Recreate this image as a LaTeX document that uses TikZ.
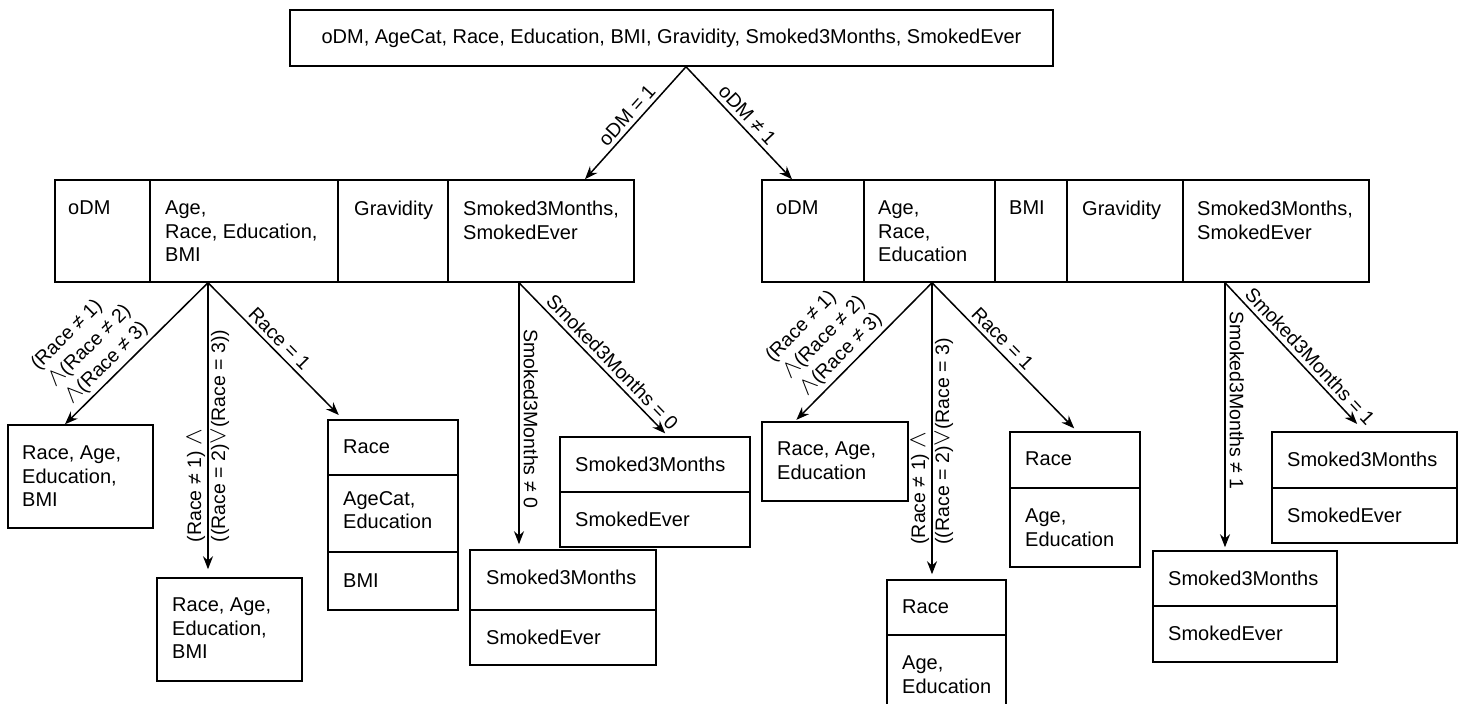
\documentclass[tikz,border=0pt]{standalone}
\usepackage{fontspec}
\setmainfont{Liberation Sans}
\newcommand{\andop}{{\fontsize{27}{24}\selectfont$\wedge$}}
\newcommand{\orop}{{\fontsize{27}{24}\selectfont$\vee$}}
\usetikzlibrary{arrows.meta}

\tikzset{
  box/.style={draw, line width=1.5pt, inner sep=0pt},
  cell/.style={anchor=north west, align=left, inner sep=0pt, font=\fontsize{20}{23.5}\selectfont},
  arr/.style={-{Stealth[length=13pt,width=10pt]}, line width=1.5pt},
  lbl/.style={font=\fontsize{19.5}{24}\selectfont, inner sep=2pt, align=left},
  slbl/.style={lbl, sloped, above, inner sep=4pt},
  divide/.style={line width=1.5pt},
}

\begin{document}
\begin{tikzpicture}[x=1pt, y=-1pt]
\useasboundingbox (0,0) rectangle (1484,704);

% root
\node[box, minimum width=763pt, minimum height=56pt, font=\fontsize{20}{24}\selectfont] (root) at (671.5,38)
  {oDM, AgeCat, Race, Education, BMI, Gravidity, Smoked3Months, SmokedEver};

% level 1
\node[box, minimum width=579pt, minimum height=102pt] (left) at (344.5,231) {};
\draw[divide] (150,180) -- (150,282);
\draw[divide] (338,180) -- (338,282);
\draw[divide] (448,180) -- (448,282);
\node[cell] at (68,201) {oDM};
\node[cell] at (165,201) {Age,\\Race, Education,\\BMI};
\node[cell] at (354,201) {Gravidity};
\node[cell] at (463,201) {Smoked3Months,\\SmokedEver};

\node[box, minimum width=607pt, minimum height=102pt] (right) at (1065.5,231) {};
\draw[divide] (864,180) -- (864,282);
\draw[divide] (995,180) -- (995,282);
\draw[divide] (1067,180) -- (1067,282);
\draw[divide] (1183,180) -- (1183,282);
\node[cell] at (776,201) {oDM};
\node[cell] at (878,201) {Age,\\Race,\\Education};
\node[cell] at (1009,201) {BMI};
\node[cell] at (1082,201) {Gravidity};
\node[cell] at (1197,201) {Smoked3Months,\\SmokedEver};

% level 2, left
\node[box, minimum width=145pt, minimum height=103pt] (a) at (80.5,476.5) {};
\node[cell] at (22,446) {Race, Age,\\Education,\\BMI};

\node[box, minimum width=145pt, minimum height=103pt] (b) at (229.5,629.5) {};
\node[cell] at (172,598) {Race, Age,\\Education,\\BMI};

\node[box, minimum width=130pt, minimum height=190pt] (c) at (393,515) {};
\draw[divide] (328,475) -- (458,475);
\draw[divide] (328,552) -- (458,552);
\node[cell] at (343,440) {Race};
\node[cell] at (343,491) {AgeCat,\\Education};
\node[cell] at (343,574) {BMI};

\node[box, minimum width=190pt, minimum height=110pt] (d) at (655,492) {};
\draw[divide] (560,492) -- (750,492);
\node[cell] at (575,457) {Smoked3Months};
\node[cell] at (575,512) {SmokedEver};

\node[box, minimum width=186pt, minimum height=115pt] (e) at (563,607.5) {};
\draw[divide] (470,610) -- (656,610);
\node[cell] at (486,570) {Smoked3Months};
\node[cell] at (486,630) {SmokedEver};

% level 2, right
\node[box, minimum width=146pt, minimum height=79pt] (f) at (835,461.5) {};
\node[cell] at (777,442) {Race, Age,\\Education};

\node[box, minimum width=119pt, minimum height=134pt] (g) at (946.5,647) {};
\draw[divide] (887,635) -- (1006,635);
\node[cell] at (902,600) {Race};
\node[cell] at (902,656) {Age,\\Education};

\node[box, minimum width=130pt, minimum height=135pt] (h) at (1075,499.5) {};
\draw[divide] (1010,488) -- (1140,488);
\node[cell] at (1025,452) {Race};
\node[cell] at (1025,509) {Age,\\Education};

\node[box, minimum width=185pt, minimum height=111pt] (i) at (1364.5,487.5) {};
\draw[divide] (1272,488) -- (1457,488);
\node[cell] at (1287,452) {Smoked3Months};
\node[cell] at (1287,508) {SmokedEver};

\node[box, minimum width=184pt, minimum height=111pt] (j) at (1245,606.5) {};
\draw[divide] (1153,606) -- (1337,606);
\node[cell] at (1168,571) {Smoked3Months};
\node[cell] at (1168,626) {SmokedEver};

% connectors
\draw[arr] ([xshift=14.5pt]root.south) -- node[slbl] {oDM = 1} ([xshift=240.5pt]left.north);
\draw[arr] ([xshift=14.5pt]root.south) -- node[slbl] {oDM ≠ 1} ([xshift=-273.5pt]right.north);

\draw[arr] ([xshift=-136.5pt]left.south) -- node[slbl, pos=0.64]
  {(Race ≠ 1)\\\andop(Race ≠ 2)\\\andop(Race ≠ 3)} ([xshift=-15.5pt]a.north);
\draw[arr, shorten >=8pt] ([xshift=-136.5pt]left.south) -- node[lbl, rotate=90, pos=0.52]
  {(Race ≠ 1) \andop\\((Race = 2)\orop(Race = 3))} ([xshift=-21.5pt]b.north);
\draw[arr, shorten >=6pt] ([xshift=-136.5pt]left.south) -- node[slbl, pos=0.47] {Race = 1} ([xshift=-50pt]c.north);

\draw[arr, shorten >=5pt] ([xshift=174.5pt]left.south) -- node[lbl, rotate=-90, anchor=south, inner sep=4pt, pos=0.51] {Smoked3Months ≠ 0} ([xshift=-44pt]e.north);
\draw[arr, shorten >=4pt] ([xshift=174.5pt]left.south) -- node[slbl, pos=0.57] {Smoked3Months = 0} ([xshift=13pt]d.north);

\draw[arr, shorten >=2pt] ([xshift=-133.5pt]right.south) -- node[slbl, pos=0.59]
  {(Race ≠ 1)\\\andop(Race ≠ 2)\\\andop(Race ≠ 3)} ([xshift=-40pt]f.north);
\draw[arr, shorten >=5pt] ([xshift=-133.5pt]right.south) -- node[lbl, rotate=90, pos=0.535]
  {(Race ≠ 1) \andop\\((Race = 2)\orop(Race = 3)} ([xshift=-14.5pt]g.north);
\draw[arr, shorten >=4pt] ([xshift=-133.5pt]right.south) -- node[slbl, pos=0.43] {Race = 1} ([xshift=2pt]h.north);

\draw[arr, shorten >=3pt] ([xshift=159.5pt]right.south) -- node[lbl, rotate=-90, anchor=south, inner sep=4pt, pos=0.44] {Smoked3Months ≠ 1} ([xshift=-20pt]j.north);
\draw[arr, shorten >=10pt] ([xshift=159.5pt]right.south) -- node[slbl, pos=0.55] {Smoked3Months = 1} ([xshift=-0.5pt]i.north);

\end{tikzpicture}
\end{document}
